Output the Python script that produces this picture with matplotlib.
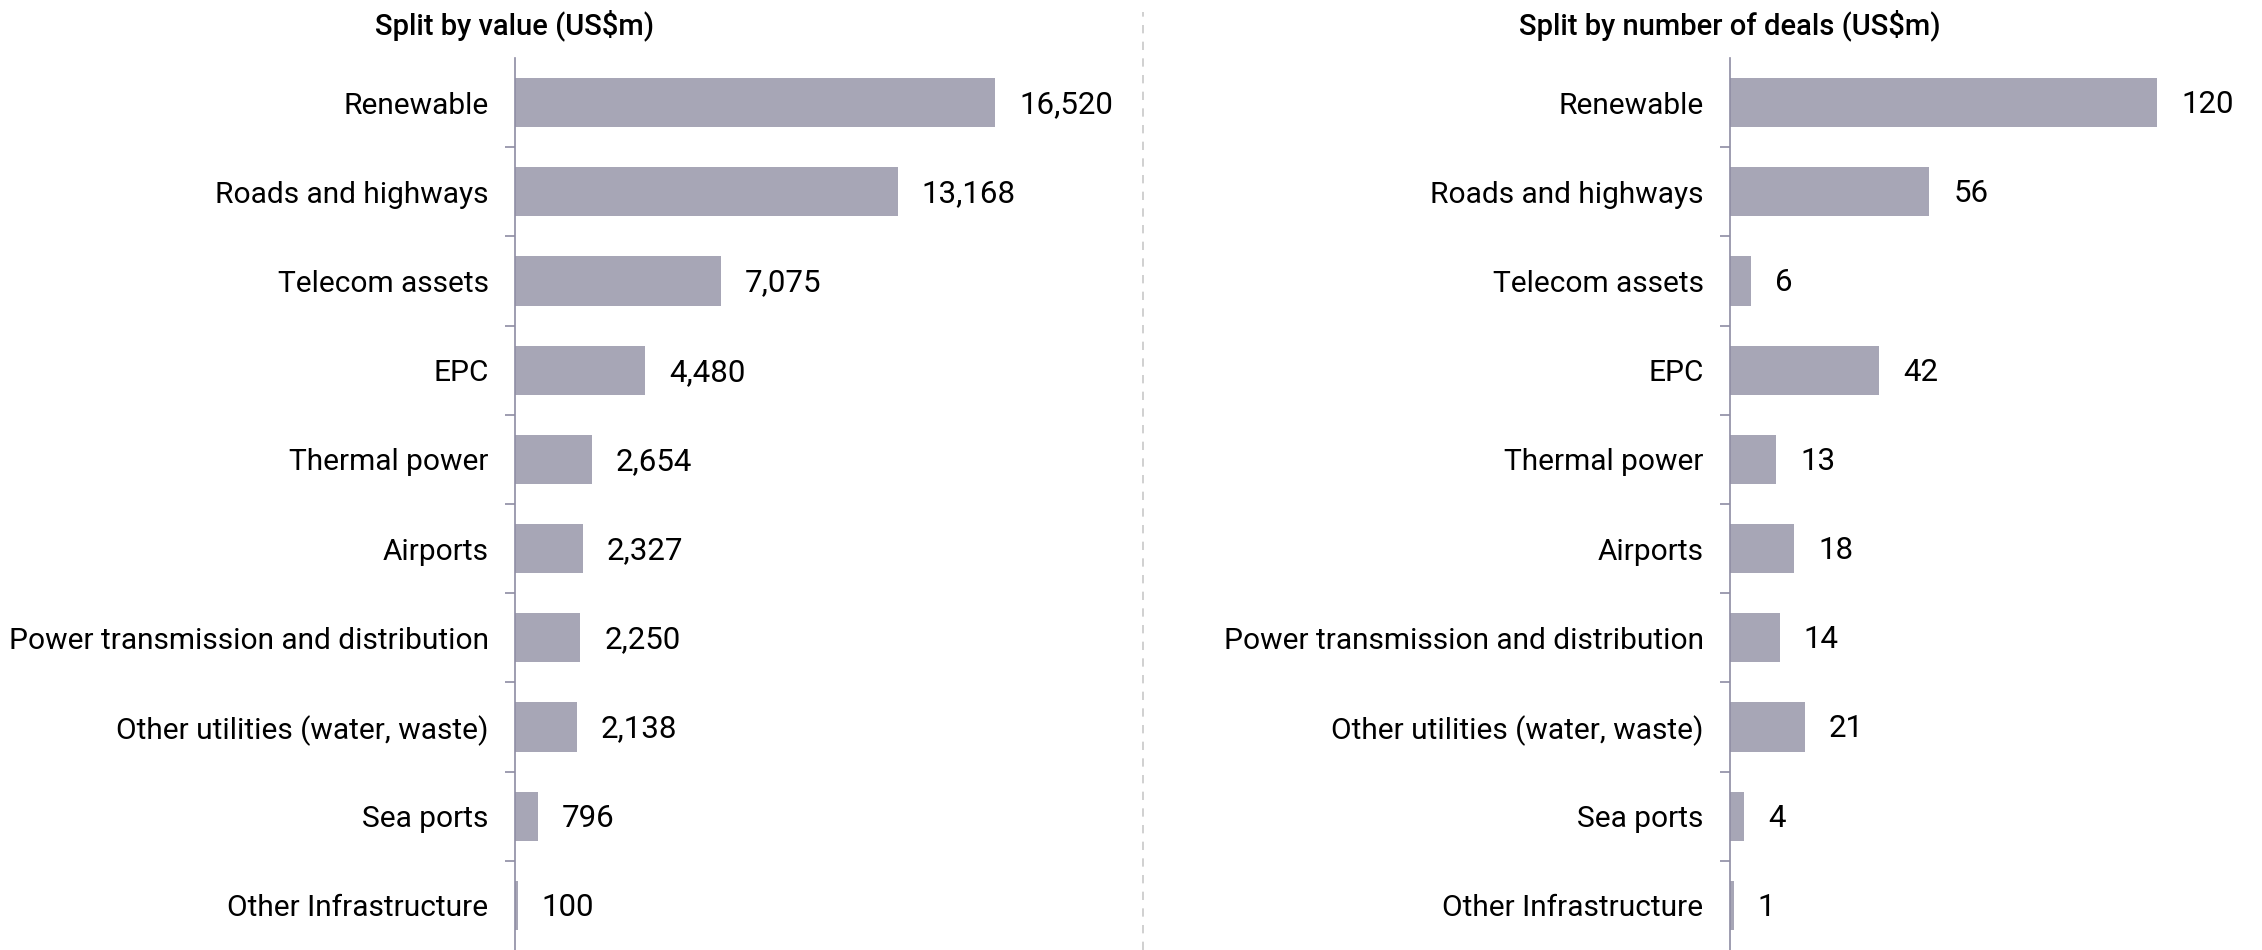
import numpy as np
import matplotlib.pyplot as plt
from matplotlib.lines import Line2D

categories = ["Renewable", "Roads and highways", "Telecom assets", "EPC", "Thermal power",
              "Airports", "Power transmission and distribution", "Other utilities (water, waste)",
              "Sea ports", "Other Infrastructure"]
deal_value = [16520, 13168, 7075, 4480, 2654, 2327, 2250, 2138, 796, 100]
deal_count = [120, 56, 6, 42, 13, 18, 14, 21, 4, 1]
titles = ["Split by value (US$m)", "Split by number of deals (US$m)"]

plt.rcParams['font.family'] = ['Roboto', 'DejaVu Sans']

bar_col = "#a7a6b6"
spine_col = "#8e8ca3"

W, H = 2262, 950
fig = plt.figure(figsize=(W / 100, H / 100), dpi=100)

# axes placed in pixel terms of the reference
ax1 = fig.add_axes([515 / W, 0, 585 / W, 892 / H])
ax2 = fig.add_axes([1730 / W, 0, 532 / W, 892 / H])

def draw(ax, vals, xmax, title, fmt):
    y = np.arange(len(categories))
    ax.barh(y, vals, height=0.55, color=bar_col)
    ax.set_ylim(len(categories) - 0.5, -0.5)
    ax.set_xlim(0, xmax)
    ax.set_yticks(y)
    ax.set_yticklabels(categories, fontsize=21.5)
    ax.tick_params(axis='y', which='major', length=0, pad=19)
    ax.set_yticks(np.arange(0.5, len(categories) - 0.5, 1), minor=True)
    ax.tick_params(axis='y', which='minor', length=7, width=1.2, color=spine_col)
    ax.set_xticks([])
    for s in ["top", "right", "bottom"]:
        ax.spines[s].set_visible(False)
    ax.spines["left"].set_color(spine_col)
    ax.spines["left"].set_linewidth(1.2)
    for yi, v in zip(y, vals):
        ax.annotate(fmt(v), (v, yi), xytext=(24, -2), textcoords="offset pixels",
                    va="center", ha="left", fontsize=22.5)
    pos = ax.get_position()
    fig.text(pos.x0, 1 - 25 / H, title, ha="center", va="center",
             fontsize=21, fontweight="medium")

draw(ax1, deal_value, 16520 * 585 / 480, titles[0], lambda v: f"{v:,}")
draw(ax2, deal_count, 532 / (427 / 120), titles[1], lambda v: f"{v}")

# dashed divider between the two panels
fig.add_artist(Line2D([1143 / W, 1143 / W], [0, 938 / H], transform=fig.transFigure,
                      color="#c8c8c8", lw=1.2, ls=(0, (5, 5))))

fig.savefig("out.png", dpi=100)
